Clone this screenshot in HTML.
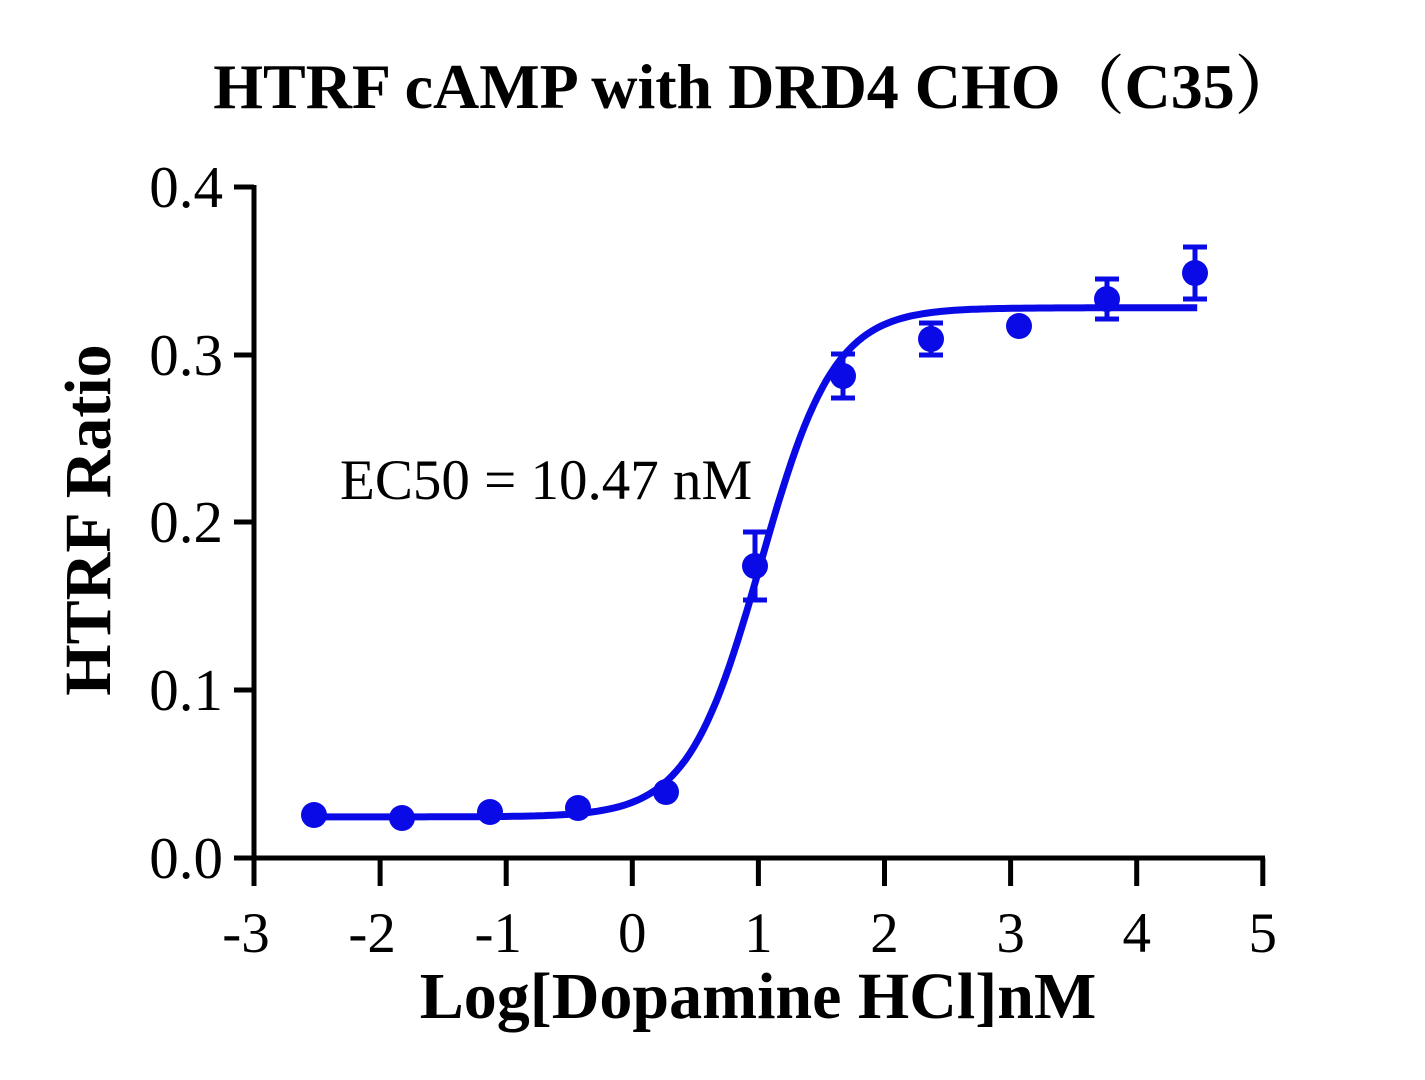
<!DOCTYPE html>
<html><head><meta charset="utf-8"><style>
html,body{margin:0;padding:0;background:#fff;}
svg{display:block;font-family:"Liberation Serif","Noto Serif CJK SC",serif;}
</style></head><body>
<svg id="s" width="1425" height="1080" viewBox="0 0 1425 1080" xmlns="http://www.w3.org/2000/svg">
<text x="756" y="108" text-anchor="middle" font-size="64" font-weight="bold">HTRF cAMP with DRD4 CHO（C35）</text>
<g stroke="#000" stroke-width="5" fill="none">
<line x1="254" y1="185" x2="254" y2="860"/>
<line x1="252" y1="858" x2="1265" y2="858"/>
<line x1="234" y1="187" x2="254" y2="187"/>
<line x1="234" y1="355" x2="254" y2="355"/>
<line x1="234" y1="522" x2="254" y2="522"/>
<line x1="234" y1="690" x2="254" y2="690"/>
<line x1="234" y1="858" x2="254" y2="858"/>
<g id="xt"></g>
</g>
<g font-size="59" text-anchor="end">
<text x="223" y="207">0.4</text>
<text x="223" y="375">0.3</text>
<text x="223" y="542">0.2</text>
<text x="223" y="710">0.1</text>
<text x="223" y="878">0.0</text>
</g>
<g font-size="57" text-anchor="middle" id="xl"></g>
<text x="758" y="1018" text-anchor="middle" font-size="66" font-weight="bold">Log[Dopamine HCl]nM</text>
<text transform="translate(110,520) rotate(-90)" text-anchor="middle" font-size="66" font-weight="bold">HTRF Ratio</text>
<text x="340" y="499" font-size="57">EC50 = 10.47 nM</text>
<path id="curve" fill="none" stroke="#0a0ae6" stroke-width="7"/>
<g id="pts" fill="#0a0ae6" stroke="#0a0ae6" stroke-width="5"></g>
</svg>
<script>
var ns="http://www.w3.org/2000/svg";
function px(v){return 254+(v+3)*126.1;}
function py(v){return 858-v*1677.5;}
var xt=document.getElementById("xt"),xl=document.getElementById("xl");
for(var i=-3;i<=5;i++){var l=document.createElementNS(ns,"line");var x=px(i);
l.setAttribute("x1",x);l.setAttribute("x2",x);l.setAttribute("y1",858);l.setAttribute("y2",886);xt.appendChild(l);
var t=document.createElementNS(ns,"text");t.setAttribute("x",x-(i<0?8:0));t.setAttribute("y",952);t.textContent=i;xl.appendChild(t);}
var d="";for(var k=0;k<=200;k++){var x=-2.52+7*k/200;var y=0.0245+(0.3035)/(1+Math.pow(10,(1.02-x)*1.5));d+=(k?"L":"M")+px(x).toFixed(1)+" "+py(y).toFixed(1);}
document.getElementById("curve").setAttribute("d",d);
var P=[[314,815,0],[402,818,0],[490,812,0],[578,808,0],[666,792,0],[755,566,34],[843,376,22],[931,339,16],[1019,326,0],[1107,299,20],[1195,273,26]];
var g=document.getElementById("pts");
P.forEach(function(p){var c=document.createElementNS(ns,"circle");c.setAttribute("cx",p[0]);c.setAttribute("cy",p[1]);c.setAttribute("r",13);c.setAttribute("stroke","none");g.appendChild(c);
if(p[2]){var e=p[2];var s="M"+p[0]+" "+(p[1]-e)+"V"+(p[1]+e)+"M"+(p[0]-12)+" "+(p[1]-e)+"H"+(p[0]+12)+"M"+(p[0]-12)+" "+(p[1]+e)+"H"+(p[0]+12);
var q=document.createElementNS(ns,"path");q.setAttribute("d",s);q.setAttribute("fill","none");g.appendChild(q);}});
</script>
</body></html>
